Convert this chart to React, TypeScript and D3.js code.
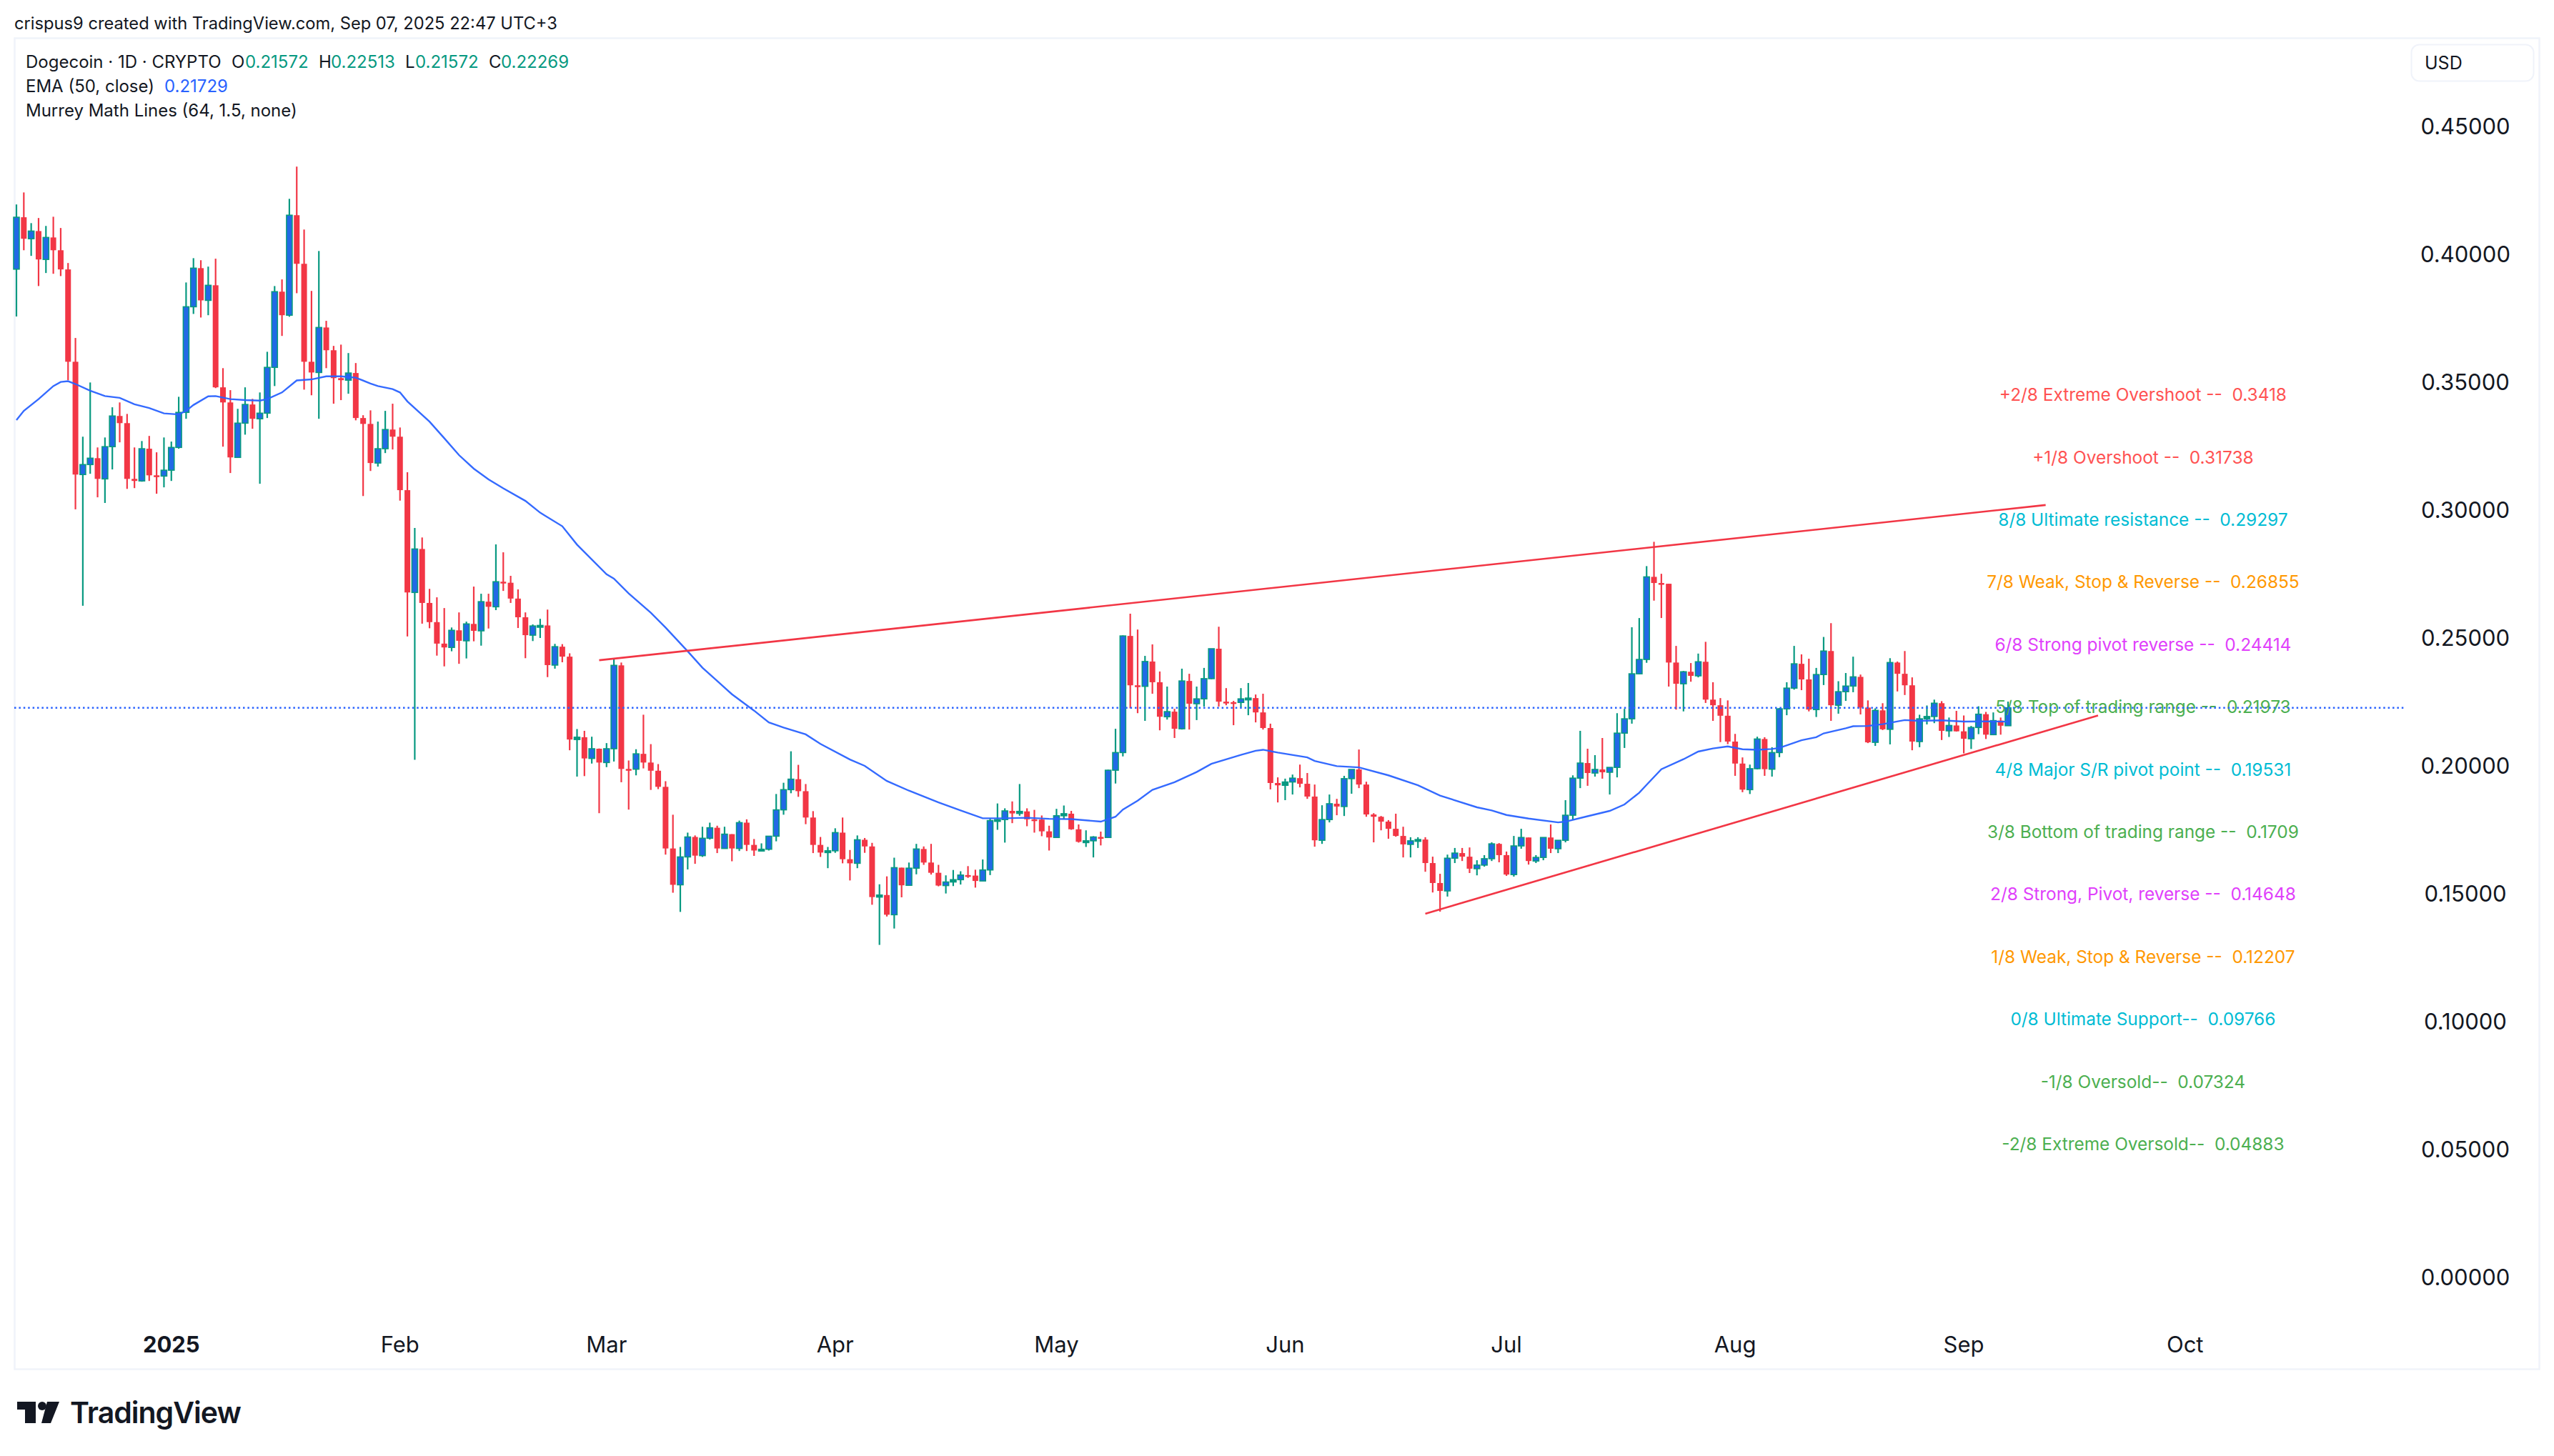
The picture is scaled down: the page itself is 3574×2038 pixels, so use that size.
import React from "react";
import * as d3 from "d3";

const FIRST_OPEN = 0.3942;
const closes = [
  0.4145,0.4061,0.4091,0.3980,0.4066,0.4016,0.3941,0.3580,0.3139,0.3178,
  0.3203,0.3122,0.3248,0.3368,0.3340,0.3122,0.3114,0.3240,0.3136,0.3133,
  0.3156,0.3245,0.3382,0.3795,0.3946,0.3820,0.3879,0.3480,0.3421,0.3206,
  0.3340,0.3413,0.3357,0.3379,0.3558,0.3854,0.3762,0.4153,0.3963,0.3580,
  0.3538,0.3714,0.3625,0.3516,0.3508,0.3536,0.3360,0.3337,0.3184,0.3240,
  0.3315,0.3287,0.3078,0.2678,0.2848,0.2637,0.2562,0.2478,0.2463,0.2530,
  0.2489,0.2555,0.2528,0.2642,0.2622,0.2720,0.2716,0.2654,0.2581,0.2511,
  0.2547,0.2549,0.2394,0.2466,0.2427,0.2103,0.2112,0.2029,0.2067,0.2013,
  0.2067,0.2393,0.1988,0.1987,0.2047,0.2013,0.1981,0.1918,0.1677,0.1535,
  0.1644,0.1722,0.1649,0.1717,0.1758,0.1677,0.1733,0.1677,0.1778,0.1691,
  0.1669,0.1674,0.1725,0.1828,0.1907,0.1948,0.1901,0.1798,0.1691,0.1661,
  0.1668,0.1739,0.1635,0.1619,0.1711,0.1685,0.1487,0.1495,0.1418,0.1602,
  0.1533,0.1600,0.1675,0.1622,0.1582,0.1532,0.1546,0.1555,0.1573,0.1571,
  0.1550,0.1593,0.1786,0.1790,0.1824,0.1814,0.1822,0.1791,0.1790,0.1744,
  0.1720,0.1805,0.1813,0.1752,0.1703,0.1707,0.1722,0.1720,0.1983,0.2052,
  0.2508,0.2315,0.2311,0.2408,0.2327,0.2192,0.2212,0.2145,0.2332,0.2243,
  0.2262,0.2341,0.2458,0.2251,0.2249,0.2248,0.2262,0.2265,0.2209,0.2148,
  0.1933,0.1924,0.1937,0.1952,0.1930,0.1880,0.1709,0.1790,0.1852,0.1841,
  0.1950,0.1986,0.1927,0.1810,0.1801,0.1782,0.1754,0.1726,0.1693,0.1707,
  0.1712,0.1620,0.1542,0.1511,0.1639,0.1659,0.1645,0.1598,0.1612,0.1637,
  0.1695,0.1651,0.1575,0.1687,0.1720,0.1628,0.1642,0.1720,0.1676,0.1709,
  0.1807,0.1952,0.2011,0.1972,0.1986,0.1975,0.1994,0.2128,0.2184,0.2360,
  0.2416,0.2739,0.2715,0.2712,0.2404,0.2321,0.2368,0.2352,0.2407,0.2259,
  0.2237,0.2196,0.2095,0.2009,0.1907,0.1989,0.2105,0.1987,0.2052,0.2223,
  0.2304,0.2399,0.2338,0.2220,0.2357,0.2449,0.2237,0.2290,0.2312,0.2348,
  0.2228,0.2092,0.2217,0.2143,0.2404,0.2360,0.2315,0.2095,0.2184,0.2193,
  0.2245,0.2137,0.2158,0.2135,0.2106,0.2150,0.2202,0.2122,0.2177,0.2157,
  0.22269,
];
const highs = [
  0.4195,0.4242,0.4122,0.4142,0.4111,0.4147,0.4103,0.3966,0.3673,0.3287,
  0.3499,0.3245,0.3284,0.3402,0.3421,0.3376,0.3245,0.3270,0.3290,0.3226,
  0.3284,0.3268,0.3443,0.3890,0.3985,0.3977,0.3952,0.3983,0.3555,0.3469,
  0.3396,0.3480,0.3435,0.3460,0.3619,0.3876,0.3902,0.4217,0.4343,0.4097,
  0.3857,0.4013,0.3740,0.3642,0.3647,0.3614,0.3575,0.3371,0.3390,0.3346,
  0.3388,0.3416,0.3323,0.3148,0.2930,0.2893,0.2692,0.2659,0.2617,0.2541,
  0.2600,0.2564,0.2701,0.2673,0.2673,0.2866,0.2835,0.2743,0.2690,0.2600,
  0.2553,0.2575,0.2611,0.2477,0.2476,0.2440,0.2144,0.2137,0.2114,0.2068,
  0.2089,0.2419,0.2404,0.2021,0.2065,0.2200,0.2085,0.2007,0.1940,0.1809,
  0.1683,0.1739,0.1728,0.1762,0.1778,0.1766,0.1762,0.1733,0.1786,0.1791,
  0.1714,0.1697,0.1725,0.1890,0.1934,0.2057,0.2004,0.1929,0.1823,0.1722,
  0.1683,0.1756,0.1798,0.1671,0.1728,0.1718,0.1699,0.1537,0.1568,0.1641,
  0.1602,0.1622,0.1695,0.1685,0.1695,0.1613,0.1572,0.1593,0.1588,0.1608,
  0.1594,0.1634,0.1795,0.1853,0.1834,0.1861,0.1929,0.1834,0.1828,0.1806,
  0.1766,0.1832,0.1845,0.1824,0.1771,0.1748,0.1725,0.1743,0.1985,0.2145,
  0.2510,0.2595,0.2533,0.2430,0.2475,0.2369,0.2310,0.2223,0.2380,0.2360,
  0.2310,0.2383,0.2458,0.2544,0.2304,0.2254,0.2304,0.2324,0.2279,0.2282,
  0.2165,0.1955,0.1950,0.1966,0.2005,0.1972,0.1927,0.1846,0.1888,0.1871,
  0.1961,0.1986,0.2064,0.1938,0.1815,0.1804,0.1788,0.1813,0.1762,0.1721,
  0.1721,0.1721,0.1645,0.1578,0.1653,0.1679,0.1679,0.1681,0.1631,0.1651,
  0.1701,0.1698,0.1665,0.1726,0.1754,0.1720,0.1651,0.1720,0.1771,0.1709,
  0.1866,0.1963,0.2137,0.2067,0.2042,0.2109,0.1994,0.2206,0.2223,0.2542,
  0.2578,0.2781,0.2876,0.2751,0.2712,0.2469,0.2371,0.2402,0.2439,0.2485,
  0.2327,0.2265,0.2256,0.2125,0.2033,0.2005,0.2114,0.2112,0.2073,0.2226,
  0.2327,0.2469,0.2436,0.2419,0.2383,0.2504,0.2558,0.2331,0.2363,0.2427,
  0.2357,0.2256,0.2225,0.2245,0.2421,0.2408,0.2449,0.2346,0.2200,0.2236,
  0.2259,0.2253,0.2189,0.2215,0.2197,0.2156,0.2233,0.2211,0.2209,0.2189,
  0.22513,
];
const lows = [
  0.3757,0.4016,0.3994,0.3876,0.3927,0.3924,0.3915,0.3508,0.3003,0.2626,
  0.3142,0.3050,0.3028,0.3159,0.3265,0.3083,0.3086,0.3111,0.3114,0.3064,
  0.3089,0.3114,0.3240,0.3357,0.3767,0.3753,0.3762,0.3477,0.3248,0.3145,
  0.3206,0.3295,0.3318,0.3103,0.3360,0.3485,0.3681,0.3756,0.3848,0.3471,
  0.3449,0.3357,0.3555,0.3416,0.3430,0.3455,0.3351,0.3055,0.3153,0.3170,
  0.3223,0.3237,0.3037,0.2506,0.2024,0.2556,0.2538,0.2431,0.2389,0.2448,
  0.2399,0.2420,0.2487,0.2470,0.2537,0.2609,0.2684,0.2637,0.2539,0.2421,
  0.2488,0.2500,0.2347,0.2380,0.2405,0.2061,0.1958,0.1960,0.2009,0.1815,
  0.1995,0.2017,0.1936,0.1829,0.1963,0.1990,0.1906,0.1909,0.1653,0.1504,
  0.1429,0.1595,0.1617,0.1644,0.1712,0.1659,0.1676,0.1627,0.1667,0.1667,
  0.1648,0.1667,0.1669,0.1705,0.1809,0.1893,0.1879,0.1772,0.1659,0.1644,
  0.1600,0.1660,0.1619,0.1552,0.1600,0.1660,0.1457,0.1300,0.1411,0.1364,
  0.1486,0.1532,0.1576,0.1613,0.1575,0.1529,0.1501,0.1530,0.1536,0.1562,
  0.1524,0.1550,0.1573,0.1750,0.1700,0.1776,0.1805,0.1764,0.1739,0.1725,
  0.1669,0.1718,0.1793,0.1750,0.1700,0.1683,0.1642,0.1689,0.1719,0.1931,
  0.2037,0.2225,0.2206,0.2176,0.2282,0.2139,0.2181,0.2109,0.2142,0.2142,
  0.2179,0.2232,0.2339,0.2232,0.2237,0.2159,0.2229,0.2198,0.2170,0.2142,
  0.1908,0.1857,0.1866,0.1888,0.1916,0.1871,0.1684,0.1695,0.1779,0.1807,
  0.1804,0.1891,0.1913,0.1801,0.1701,0.1748,0.1715,0.1723,0.1642,0.1642,
  0.1679,0.1586,0.1505,0.1430,0.1489,0.1620,0.1628,0.1581,0.1572,0.1606,
  0.1628,0.1623,0.1570,0.1567,0.1676,0.1614,0.1620,0.1631,0.1659,0.1659,
  0.1701,0.1790,0.1913,0.1922,0.1958,0.1950,0.1888,0.1955,0.2070,0.2165,
  0.2358,0.2403,0.2646,0.2578,0.2310,0.2220,0.2213,0.2329,0.2346,0.2246,
  0.2176,0.2093,0.2085,0.1961,0.1897,0.1890,0.1986,0.1961,0.1958,0.2034,
  0.2198,0.2298,0.2296,0.2213,0.2191,0.2316,0.2176,0.2204,0.2254,0.2288,
  0.2201,0.2089,0.2078,0.2140,0.2084,0.2291,0.2277,0.2061,0.2073,0.2162,
  0.2167,0.2101,0.2113,0.2134,0.2049,0.2066,0.2124,0.2105,0.2120,0.2122,
  0.21572,
];

const emaBars = [
  0,1,3,5,6,7,8,10,12,14,16,18,20,22,23,24,26,27,29,31,33,34,36,38,40,42,44,46,48,49,51,52,53,56,58,60,62,64,66,69,71,74,76,80,81,83,86,88,91,93,95,97,100,102,104,107,109,113,115,118,121,125,128,131,134,137,140,143,147,149,150,152,154,157,160,162,166,168,169,171,175,176,179,182,186,190,193,198,200,202,205,209,210,213,216,218,220,221,223,226,228,230,232,234,236,238,239,242,244,245,248,249,251,253,256,258,261,264,267,270,
];
const emaValues = [
  0.3352,0.3388,0.3434,0.3485,0.3501,0.3504,0.3493,0.3467,0.3446,0.3439,0.3414,0.3399,0.3378,0.3374,0.3388,0.3411,0.3445,0.3446,0.3434,0.3430,0.3428,0.3434,0.3460,0.3507,0.3511,0.3523,0.3523,0.3518,0.3495,0.3485,0.3473,0.3460,0.3425,0.3346,0.3281,0.3215,0.3162,0.3120,0.3085,0.3036,0.2990,0.2937,0.2865,0.2749,0.2732,0.2674,0.2599,0.2541,0.2448,0.2384,0.2332,0.2280,0.2216,0.2170,0.2150,0.2123,0.2086,0.2025,0.2000,0.1941,0.1903,0.1857,0.1826,0.1795,0.1795,0.1797,0.1793,0.1792,0.1782,0.1801,0.1829,0.1864,0.1906,0.1936,0.1976,0.2008,0.2043,0.2059,0.2063,0.2052,0.2033,0.2019,0.1999,0.1994,0.1963,0.1924,0.1884,0.1838,0.1826,0.1808,0.1794,0.1779,0.1782,0.1803,0.1824,0.1849,0.1895,0.1926,0.1987,0.2026,0.2056,0.2068,0.2076,0.2065,0.2063,0.2066,0.2070,0.2100,0.2112,0.2127,0.2147,0.2155,0.2156,0.2163,0.2179,0.2176,0.2178,0.2173,0.2174,0.21729,
];

const lastPrice = 0.22269;
const upperTrendBars = [79, 275.1];
const upperTrendPrices = [0.2413, 0.302];
const lowerTrendBars = [191, 282.2];
const lowerTrendPrices = [0.1422, 0.2197];

const priceTicks = [0, 0.05, 0.1, 0.15, 0.2, 0.25, 0.3, 0.35, 0.4, 0.45];
const monthLabels = ["2025", "Feb", "Mar", "Apr", "May", "Jun", "Jul", "Aug", "Sep", "Oct"];
const monthBars = [21, 52, 80, 111, 141, 172, 202, 233, 264, 294];

const murreyLevels = [0.3418, 0.31738, 0.29297, 0.26855, 0.24414, 0.21973, 0.19531, 0.1709, 0.14648, 0.12207, 0.09766, 0.07324, 0.04883];
const murreyTexts = [
  "+2/8 Extreme Overshoot --  0.3418",
  "+1/8 Overshoot --  0.31738",
  "8/8 Ultimate resistance --  0.29297",
  "7/8 Weak, Stop & Reverse --  0.26855",
  "6/8 Strong pivot reverse --  0.24414",
  "5/8 Top of trading range --  0.21973",
  "4/8 Major S/R pivot point --  0.19531",
  "3/8 Bottom of trading range --  0.1709",
  "2/8 Strong, Pivot, reverse --  0.14648",
  "1/8 Weak, Stop & Reverse --  0.12207",
  "0/8 Ultimate Support--  0.09766",
  "-1/8 Oversold--  0.07324",
  "-2/8 Extreme Oversold--  0.04883",
];
const murreyColors = ["#ff5252", "#ff5252", "#00bcd4", "#ff9800", "#e040fb", "#4caf50", "#00bcd4", "#4caf50", "#e040fb", "#ff9800", "#00bcd4", "#4caf50", "#4caf50"];

const INK = "#131722";
const UP = "#089981";
const UP_BODY = "#2169e6";
const DOWN = "#f23645";
const BLUE = "#2962ff";
const FONT = "Inter, 'Noto Sans', sans-serif";

export default function App() {
  const x = d3.scaleLinear().domain([0, 270]).range([23, 2810]);
  const y = d3.scaleLinear().domain([0, 0.45]).range([1788, 177]);
  const opens = closes.map((_, i) => (i === 0 ? FIRST_OPEN : closes[i - 1]));
  const emaLine = d3.line<number>().x((d) => x(emaBars[d])).y((d) => y(emaValues[d]));
  const trend = (bars: number[], prices: number[]) =>
    d3.line<number>().x((d) => x(bars[d])).y((d) => y(prices[d]))([0, 1]) as string;
  const bw = 8;

  return (
    <svg
      width={3574}
      height={2038}
      viewBox="0 0 3574 2038"
      style={{ position: "absolute", left: 0, top: 0, display: "block", background: "#fff", fontFamily: FONT }}
    >
      <rect x={0} y={0} width={3574} height={2038} fill="#fff" />
      <rect x={20.5} y={53.5} width={3533} height={1863} fill="none" stroke="#f0f3fa" strokeWidth={2.5} />

      <text x={20} y={41} fontSize={23.7} fill={INK}>crispus9 created with TradingView.com, Sep 07, 2025 22:47 UTC+3</text>

      <g>
        {closes.map((c, i) => {
          const o = opens[i];
          const up = c >= o;
          const cx = x(i);
          const top = y(Math.max(o, c));
          const h = Math.max(2.5, Math.abs(y(o) - y(c)));
          return (
            <g key={i}>
              <line x1={cx} x2={cx} y1={y(highs[i])} y2={y(lows[i])} stroke={up ? UP : DOWN} strokeWidth={2.2} />
              <rect
                x={cx - bw / 2}
                y={top}
                width={bw}
                height={h}
                fill={up ? (h > 5 ? UP_BODY : UP) : DOWN}
                stroke={up ? UP : DOWN}
                strokeWidth={up ? 1.6 : 0}
              />
            </g>
          );
        })}
      </g>

      <path d={emaLine(d3.range(emaBars.length)) as string} fill="none" stroke={BLUE} strokeWidth={2.4} opacity={0.95} />

      <g fontSize={24.4} textAnchor="middle" style={{ whiteSpace: "pre" }}>
        {murreyTexts.map((t, i) => (
          <text key={t} x={x(288.3)} y={y(murreyLevels[i]) - 12} dy="0.36em" fill={murreyColors[i]} xmlSpace="preserve">{t}</text>
        ))}
      </g>

      <path d={trend(upperTrendBars, upperTrendPrices)} fill="none" stroke={DOWN} strokeWidth={2.6} />
      <path d={trend(lowerTrendBars, lowerTrendPrices)} fill="none" stroke={DOWN} strokeWidth={2.6} />

      <line x1={20} x2={3364} y1={y(lastPrice)} y2={y(lastPrice)} stroke={BLUE} strokeWidth={2.5} strokeDasharray="2.5 3.9" />

      <g fontSize={24} fill={INK} style={{ whiteSpace: "pre" }}>
        <text x={36} y={94.7}>Dogecoin · 1D · CRYPTO</text>
        <text x={324} y={94.7}>O</text>
        <text x={343} y={94.7} fill={UP}>0.21572</text>
        <text x={446} y={94.7}>H</text>
        <text x={463} y={94.7} fill={UP}>0.22513</text>
        <text x={567} y={94.7}>L</text>
        <text x={581} y={94.7} fill={UP}>0.21572</text>
        <text x={684} y={94.7}>C</text>
        <text x={701} y={94.7} fill={UP}>0.22269</text>
        <text x={36} y={128.7}>EMA (50, close)</text>
        <text x={230} y={128.7} fill={BLUE}>0.21729</text>
        <text x={36} y={162.7}>Murrey Math Lines (64, 1.5, none)</text>
      </g>

      <rect x={3374.5} y={62.5} width={171} height={51} rx={11} fill="#fff" stroke="#f0f3fa" strokeWidth={2} />
      <text x={3393} y={97} fontSize={25} fill={INK}>USD</text>

      <g fontSize={31} fill={INK} textAnchor="middle">
        {priceTicks.map((p) => (
          <text key={p} x={3450} y={y(p)} dy="0.36em">{p.toFixed(5)}</text>
        ))}
      </g>

      <g fontSize={31} fill={INK} textAnchor="middle">
        {monthLabels.map((m, i) => (
          <text key={m} x={x(monthBars[i])} y={1893} fontWeight={i === 0 ? 700 : 400}>{m}</text>
        ))}
      </g>

      <g fill="#131722">
        <path d="M24 1962H50V1992H35V1973H24Z" />
        <circle cx={59} cy={1968} r={6} />
        <path d="M66 1962H83L71 1992H58Z" />
        <text x={98} y={1992} fontSize={41} fontWeight={600} letterSpacing={-1}>TradingView</text>
      </g>
    </svg>
  );
}
